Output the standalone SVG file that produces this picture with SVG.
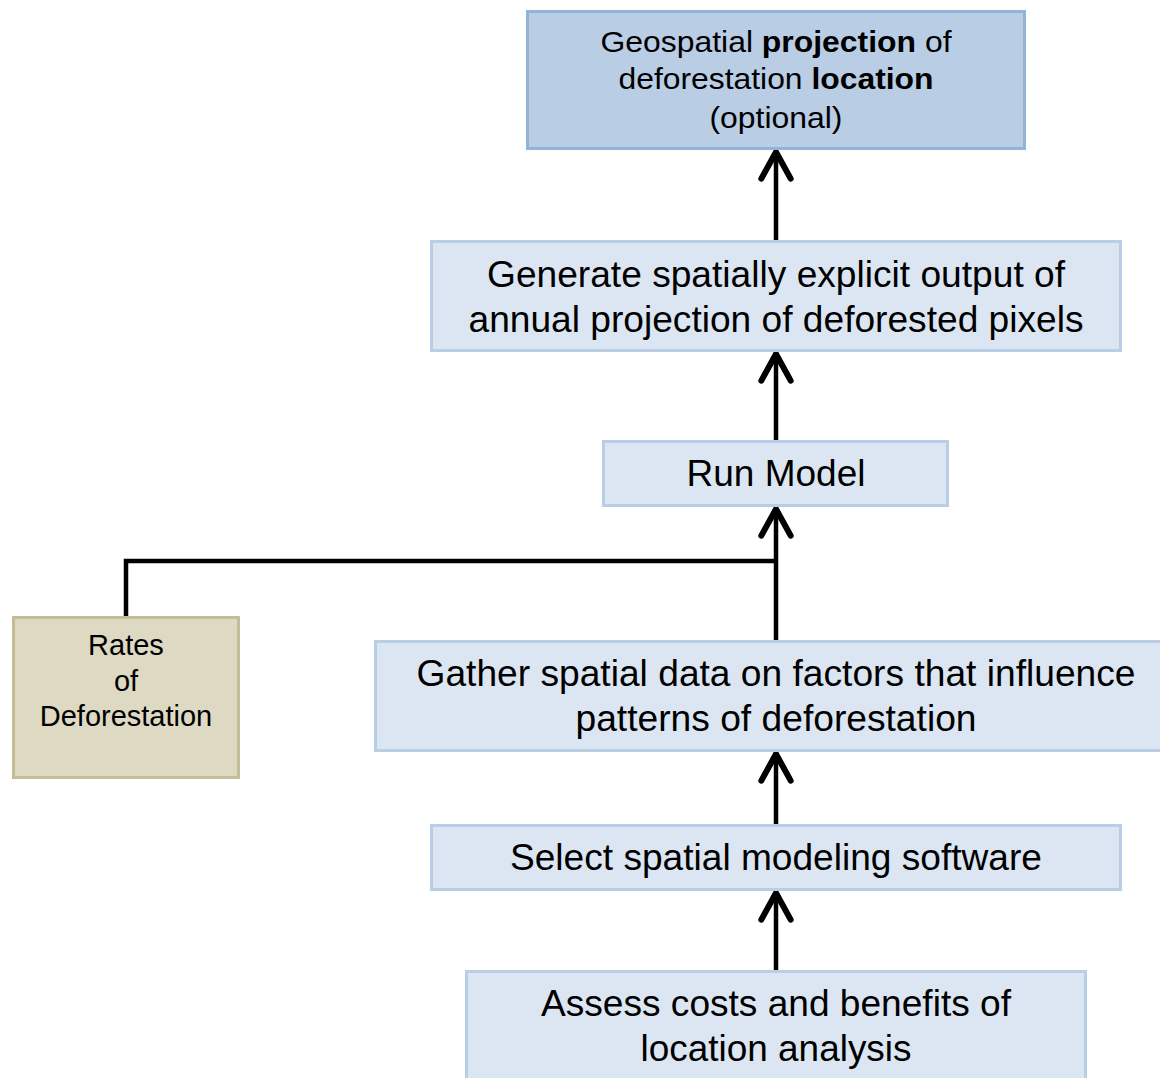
<svg xmlns="http://www.w3.org/2000/svg" width="1160" height="1078" viewBox="0 0 1160 1078">
  <defs>
    <marker id="chev" markerUnits="userSpaceOnUse" markerWidth="40" markerHeight="40" viewBox="-25 -15 30 30" refX="0" refY="0" orient="auto" overflow="visible">
      <path d="M-20,-11 L0,0 L-20,11" fill="none" stroke="#000" stroke-width="4.5" stroke-linejoin="round" stroke-linecap="round"/>
    </marker>
    <style>
      .box { fill: #dce6f2; stroke: #b9cde5; stroke-width: 3; }
      .top { fill: #b9cde5; stroke: #95b3d7; stroke-width: 3; }
      .tan { fill: #ddd9c3; stroke: #c4bd97; stroke-width: 3; }
      .t { font-family: "Liberation Sans", Arial, sans-serif; fill: #000; text-anchor: middle; }
      .big { font-size: 36px; }
      .mid { font-size: 30px; }
      .sm { font-size: 29px; }
      .b { font-weight: bold; }
      .wire { fill: none; stroke: #000; stroke-width: 4.5; }
    </style>
  </defs>

  <g id="connectors">
    <path class="wire" d="M776,240 V152" marker-end="url(#chev)"/>
    <path class="wire" d="M776,440 V354" marker-end="url(#chev)"/>
    <path class="wire" d="M776,640 V509" marker-end="url(#chev)"/>
    <path class="wire" d="M126,616 V561 H776"/>
    <path class="wire" d="M776,824 V754" marker-end="url(#chev)"/>
    <path class="wire" d="M776,970 V893" marker-end="url(#chev)"/>
  </g>

  <g id="node-geospatial">
    <rect class="top" x="527.5" y="11.5" width="497" height="137"/>
    <text class="t mid" x="776" y="52" textLength="351" lengthAdjust="spacingAndGlyphs">Geospatial <tspan class="b">projection</tspan> of</text>
    <text class="t mid" x="776" y="89" textLength="315" lengthAdjust="spacingAndGlyphs">deforestation <tspan class="b">location</tspan></text>
    <text class="t mid" x="776" y="128" textLength="133" lengthAdjust="spacingAndGlyphs">(optional)</text>
  </g>

  <g id="node-generate">
    <rect class="box" x="431.5" y="241.5" width="689" height="109"/>
    <text class="t big" x="776" y="287" textLength="578" lengthAdjust="spacingAndGlyphs">Generate spatially explicit output of</text>
    <text class="t big" x="776" y="332" textLength="615" lengthAdjust="spacingAndGlyphs">annual projection of deforested pixels</text>
  </g>

  <g id="node-run-model">
    <rect class="box" x="603.5" y="441.5" width="344" height="64"/>
    <text class="t big" x="776" y="486" textLength="179" lengthAdjust="spacingAndGlyphs">Run Model</text>
  </g>

  <g id="node-rates">
    <rect class="tan" x="13.5" y="617.5" width="225" height="160"/>
    <text class="t sm" x="126" y="655">Rates</text>
    <text class="t sm" x="126" y="691">of</text>
    <text class="t sm" x="126" y="726">Deforestation</text>
  </g>

  <g id="node-gather">
    <rect class="box" x="375.5" y="641.5" width="802" height="109"/>
    <text class="t big" x="776" y="686" textLength="719" lengthAdjust="spacingAndGlyphs">Gather spatial data on factors that influence</text>
    <text class="t big" x="776" y="731" textLength="401" lengthAdjust="spacingAndGlyphs">patterns of deforestation</text>
  </g>

  <g id="node-select">
    <rect class="box" x="431.5" y="825.5" width="689" height="64"/>
    <text class="t big" x="776" y="870" textLength="532" lengthAdjust="spacingAndGlyphs">Select spatial modeling software</text>
  </g>

  <g id="node-assess">
    <rect class="box" x="466.5" y="971.5" width="619" height="112"/>
    <text class="t big" x="776" y="1016" textLength="470" lengthAdjust="spacingAndGlyphs">Assess costs and benefits of</text>
    <text class="t big" x="776" y="1061" textLength="271" lengthAdjust="spacingAndGlyphs">location analysis</text>
  </g>
</svg>
